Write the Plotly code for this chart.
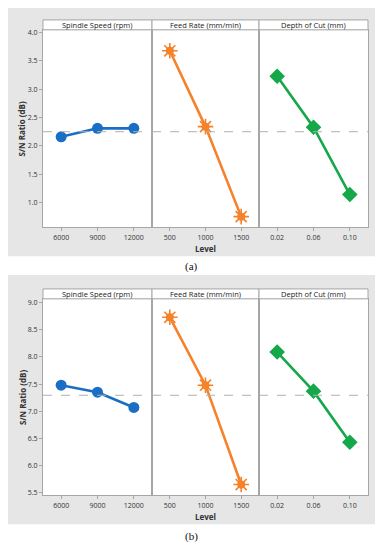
import plotly.graph_objects as go

# The page body has an 8px margin, so the figure is placed at (8, 8);
# sizes and positions below are expressed in page pixels and shifted.
OFF = 8
W, H = 383 - OFF, 550 - OFF

factors = ["Spindle Speed (rpm)", "Feed Rate (mm/min)", "Depth of Cut (mm)"]
levels = [["6000", "9000", "12000"], ["500", "1000", "1500"], ["0.02", "0.06", "0.10"]]

sn_a_spindle = [2.16, 2.31, 2.31]
sn_a_feed = [3.68, 2.34, 0.75]
sn_a_depth = [3.23, 2.33, 1.14]

sn_b_spindle = [7.48, 7.35, 7.07]
sn_b_feed = [8.73, 7.48, 5.65]
sn_b_depth = [8.09, 7.37, 6.43]

yticks_a = [1.0, 1.5, 2.0, 2.5, 3.0, 3.5, 4.0]
yticks_b = [5.5, 6.0, 6.5, 7.0, 7.5, 8.0, 8.5, 9.0]
yrange_a = [0.56, 4.05]
yrange_b = [5.45, 9.07]

colors = ["#1a6fc4", "#f5822a", "#14a84a"]
grid_col = "#a6a6a6"
FONT = "Open Sans"

def px(x):
    return (x - OFF) / W

def py(y):
    return 1 - (y - OFF) / H

col_px = [(43, 152), (152, 259), (259, 368)]
rows = [
    dict(data=[sn_a_spindle, sn_a_feed, sn_a_depth], ticks=yticks_a, rng=yrange_a,
         top=28, bot=227, strip_top=18, box=(6, 6, 378, 256), label="(a)", label_y=266),
    dict(data=[sn_b_spindle, sn_b_feed, sn_b_depth], ticks=yticks_b, rng=yrange_b,
         top=299, bot=497, strip_top=289, box=(6, 275, 378, 526), label="(b)", label_y=538),
]

fig = go.Figure()
layout = dict(
    width=W, height=H, margin=dict(l=0, r=0, t=0, b=0),
    paper_bgcolor="white", plot_bgcolor="white", showlegend=False,
    font=dict(family=FONT, size=7, color="#333333"),
)
shapes = []
annotations = []

for r, row in enumerate(rows):
    x0, y0, x1, y1 = row["box"]
    shapes.append(dict(type="rect", xref="paper", yref="paper", x0=px(x0), x1=px(x1),
                       y0=py(y1), y1=py(y0), fillcolor="#e6e6e6", line=dict(width=0), layer="below"))
    vals_all = [v for series in row["data"] for v in series]
    grand_mean = sum(vals_all) / len(vals_all)
    for c in range(3):
        i = r * 3 + c + 1
        xa = "x" if i == 1 else f"x{i}"
        ya = "y" if i == 1 else f"y{i}"
        xl = "xaxis" if i == 1 else f"xaxis{i}"
        yl = "yaxis" if i == 1 else f"yaxis{i}"
        cx0, cx1 = col_px[c]
        # white plot area
        shapes.append(dict(type="rect", xref="paper", yref="paper", x0=px(cx0), x1=px(cx1),
                           y0=py(row["bot"]), y1=py(row["top"]), fillcolor="white",
                           line=dict(width=0), layer="below"))
        layout[xl] = dict(
            domain=[px(cx0), px(cx1)], anchor=ya, type="category",
            categoryorder="array", categoryarray=levels[c], range=[-0.5, 2.5],
            showline=True, mirror=True, linecolor=grid_col, linewidth=1,
            ticks="outside", ticklen=3, tickcolor=grid_col, showgrid=False, zeroline=False,
            tickfont=dict(size=7, color="#333333"), fixedrange=True,
        )
        layout[yl] = dict(
            domain=[py(row["bot"]), py(row["top"])], anchor=xa, range=row["rng"],
            tickvals=row["ticks"], ticktext=[f"{t:.1f}" for t in row["ticks"]],
            showticklabels=(c == 0), ticks="outside" if c == 0 else "", ticklen=3,
            tickcolor=grid_col, showline=True, mirror=True, linecolor=grid_col, linewidth=1,
            showgrid=False, zeroline=False, tickfont=dict(size=7, color="#333333"), fixedrange=True,
        )
        # grand mean reference line
        shapes.append(dict(type="line", xref=f"{xa} domain", yref=ya, x0=0, x1=1,
                           y0=grand_mean, y1=grand_mean,
                           line=dict(color="#b0b0b0", width=1, dash="dash")))
        vals = row["data"][c]
        col = colors[c]
        if c == 0:
            fig.add_trace(go.Scatter(x=levels[c], y=vals, xaxis=xa, yaxis=ya, mode="lines+markers",
                                     line=dict(color=col, width=2.6),
                                     marker=dict(symbol="circle", size=11, color=col)))
        elif c == 1:
            fig.add_trace(go.Scatter(x=levels[c], y=vals, xaxis=xa, yaxis=ya, mode="lines+markers",
                                     line=dict(color=col, width=2.6),
                                     marker=dict(symbol="circle", size=8, color=col)))
            fig.add_trace(go.Scatter(x=levels[c], y=vals, xaxis=xa, yaxis=ya, mode="markers",
                                     marker=dict(symbol="asterisk-open", size=13, color=col,
                                                 line=dict(color=col, width=1.6))))
        else:
            fig.add_trace(go.Scatter(x=levels[c], y=vals, xaxis=xa, yaxis=ya, mode="lines+markers",
                                     line=dict(color=col, width=2.6),
                                     marker=dict(symbol="diamond", size=12, color=col)))
        # strip header
        shapes.append(dict(type="rect", xref="paper", yref="paper", x0=px(cx0), x1=px(cx1),
                           y0=py(row["top"]), y1=py(row["strip_top"]), fillcolor="white",
                           line=dict(color=grid_col, width=1)))
        annotations.append(dict(text=factors[c], xref="paper", yref="paper",
                                x=px((cx0 + cx1) / 2), y=py((row["top"] + row["strip_top"]) / 2),
                                showarrow=False, xanchor="center", yanchor="middle",
                                font=dict(size=7.5, color="#222222", family=FONT)))
    # axis titles
    annotations.append(dict(text="<b>Level</b>", xref="paper", yref="paper",
                            x=px(205), y=py(row["bot"] + 21), showarrow=False,
                            xanchor="center", yanchor="middle",
                            font=dict(size=8, color="#333333", family=FONT)))
    annotations.append(dict(text="<b>S/N Ratio (dB)</b>", xref="paper", yref="paper",
                            x=px(22), y=py((row["top"] + row["bot"]) / 2), showarrow=False,
                            textangle=-90, xanchor="center", yanchor="middle",
                            font=dict(size=8, color="#333333", family=FONT)))
    annotations.append(dict(text=row["label"], xref="paper", yref="paper",
                            x=px(191), y=py(row["label_y"]), showarrow=False,
                            xanchor="center", yanchor="middle",
                            font=dict(size=11, color="#111111", family="Liberation Serif")))

layout["shapes"] = shapes
layout["annotations"] = annotations
fig.update_layout(**layout)
fig.write_html("out.html")
